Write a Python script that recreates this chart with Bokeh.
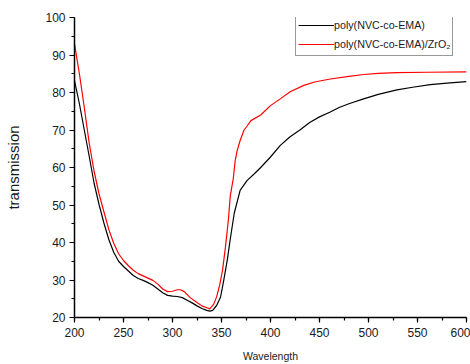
from bokeh.plotting import figure
from bokeh.models import Range1d, SingleIntervalTicker, Legend, LegendItem
from bokeh.embed import file_html
from bokeh.resources import INLINE

wl_black = [200, 205, 210, 215, 220, 225, 230, 235, 240, 245, 250, 255, 260, 265, 270,
            275, 280, 285, 290, 295, 300, 305, 310, 315, 320, 325, 330, 335, 338, 341,
            345, 349, 352, 356, 359, 363, 369, 376, 383, 390, 400, 410, 420, 430, 440,
            450, 461, 470, 480, 495, 510, 529, 545, 563, 580, 600]
t_black = [83.2, 77.0, 70.0, 63.0, 55.8, 50.2, 45.2, 40.8, 37.4, 35.0, 33.6, 32.4, 31.2, 30.4, 29.9,
           29.3, 28.6, 27.6, 26.6, 25.9, 25.7, 25.6, 25.3, 24.6, 23.9, 23.1, 22.4, 21.9, 21.7, 21.9,
           23.2, 25.4, 29.5, 35.5, 41.0, 47.8, 53.9, 56.5, 58.2, 60.0, 62.8, 65.9, 68.2, 70.0, 72.0,
           73.5, 74.8, 76.0, 77.0, 78.3, 79.5, 80.7, 81.4, 82.1, 82.5, 82.9]

wl_red = [200, 205, 210, 215, 220, 225, 230, 235, 240, 245, 250, 255, 260, 265, 270,
          275, 280, 285, 290, 295, 300, 305, 308, 312, 318, 325, 330, 335, 338, 342,
          345, 348, 351, 354, 357, 359, 362, 364, 366, 369, 373, 376, 380, 390, 400,
          410, 420, 434, 445, 461, 480, 495, 510, 529, 560, 600]
t_red = [93.0, 85.0, 76.0, 66.5, 59.0, 53.0, 48.2, 43.5, 39.8, 37.0, 35.2, 33.8, 32.6, 31.7, 31.1,
         30.5, 29.9, 28.9, 27.6, 26.9, 27.0, 27.4, 27.4, 26.9, 25.3, 24.0, 23.1, 22.6, 22.3, 23.5,
         25.5, 28.5, 32.5, 38.7, 46.0, 52.5, 57.0, 61.9, 64.5, 67.2, 70.0, 71.0, 72.5, 74.0, 76.5,
         78.3, 80.2, 81.9, 82.8, 83.6, 84.3, 84.8, 85.1, 85.3, 85.4, 85.5]

labels = ["poly(NVC-co-EMA)", "poly(NVC-co-EMA)/ZrO\u2082"]
x_title = "Wavelength"
y_title = "transmission"

FONT = "Liberation Sans"
TXT = "#1a1a1a"

p = figure(width=470, height=364, output_backend="svg", toolbar_location=None,
           x_range=Range1d(200, 600), y_range=Range1d(20, 100),
           min_border_left=74, min_border_right=4, min_border_top=17, min_border_bottom=47)
p.outline_line_color = None
p.xgrid.visible = False
p.ygrid.visible = False

r1 = p.line(wl_black, t_black, line_color="black", line_width=1.2)
r2 = p.line(wl_red, t_red, line_color="#ff0000", line_width=1.2)

p.xaxis.ticker = SingleIntervalTicker(interval=50, num_minor_ticks=2)
p.yaxis.ticker = SingleIntervalTicker(interval=10, num_minor_ticks=2)

for ax in (p.xaxis[0], p.yaxis[0]):
    ax.axis_line_color = "black"
    ax.axis_line_width = 1.5
    ax.major_tick_line_color = "black"
    ax.minor_tick_line_color = "black"
    ax.major_tick_line_width = 1.2
    ax.minor_tick_line_width = 1.2
    ax.major_tick_in = 0
    ax.major_tick_out = 5
    ax.minor_tick_in = 0
    ax.minor_tick_out = 3
    ax.major_label_text_font = FONT
    ax.major_label_text_font_size = "12px"
    ax.major_label_text_color = TXT
    ax.axis_label_text_font = FONT
    ax.axis_label_text_font_style = "normal"
    ax.axis_label_text_color = TXT

p.xaxis.axis_label = x_title
p.xaxis.axis_label_text_font_size = "10.5px"
p.xaxis.major_label_standoff = 5
p.xaxis.axis_label_standoff = 10

p.yaxis.axis_label = y_title
p.yaxis.axis_label_text_font_size = "15px"
p.yaxis.major_label_standoff = 4
p.yaxis.axis_label_standoff = 20

legend = Legend(items=[LegendItem(label=labels[0], renderers=[r1]),
                       LegendItem(label=labels[1], renderers=[r2])],
                location=(221, 261), orientation="vertical",
                label_text_font=FONT, label_text_font_size="10.7px", label_text_color=TXT,
                glyph_width=36, glyph_height=18, label_height=18, label_standoff=0,
                spacing=1, padding=2, margin=0,
                border_line_color="#333333", border_line_width=1,
                background_fill_color="white", background_fill_alpha=1)
p.add_layout(legend, "center")

open("out.html", "w").write(file_html(p, INLINE))
